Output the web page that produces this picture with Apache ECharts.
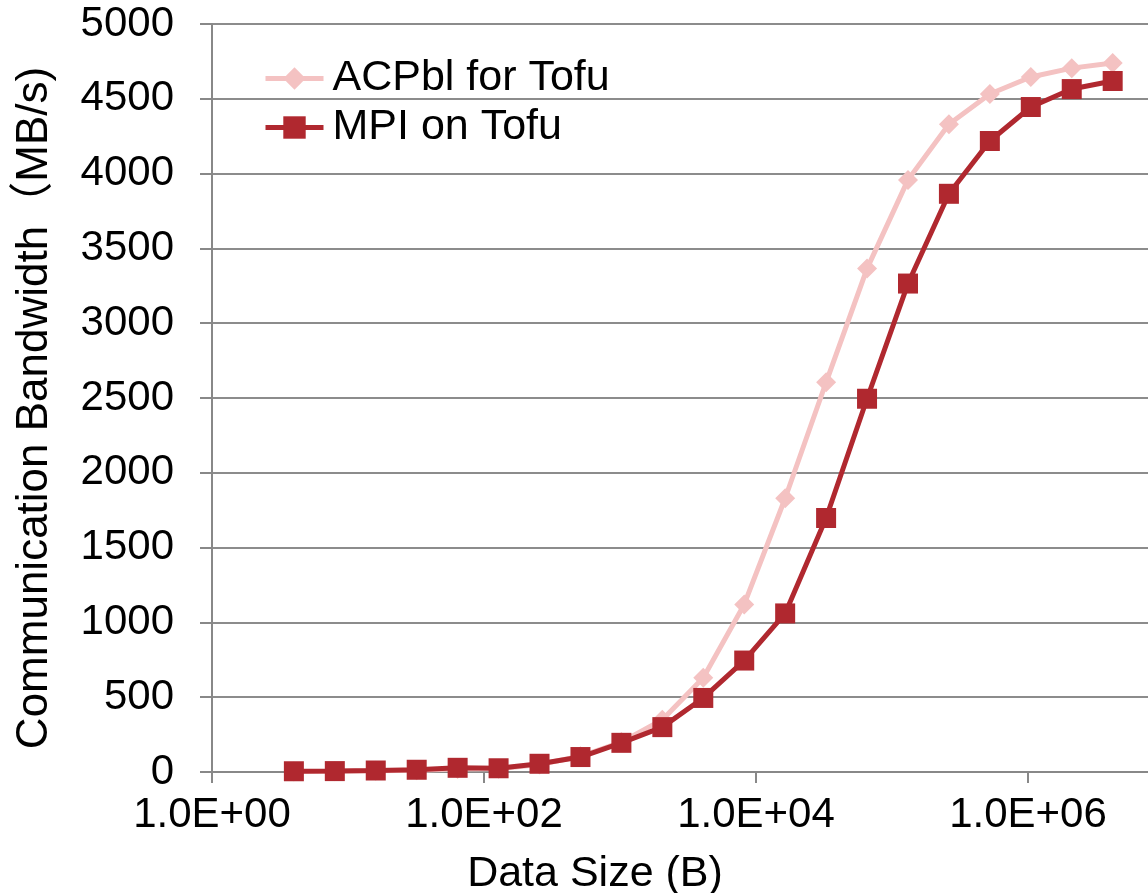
<!DOCTYPE html>
<html>
<head>
<meta charset="utf-8">
<script src="https://cdn.jsdelivr.net/npm/echarts@6/dist/echarts.min.js"></script>
<style>
html,body{margin:0;padding:0;background:#fff;}
#chart{width:1148px;height:893px;}
</style>
</head>
<body>
<div id="chart"></div>
<script>
// Data sizes in bytes (4 B .. 4 MB)
const dataSizes = [4, 8, 16, 32, 64, 128, 256, 512, 1024, 2048, 4096, 8192, 16384, 32768, 65536, 131072, 262144, 524288, 1048576, 2097152, 4194304];
const acpblValues = [3, 5, 8, 12, 20, 22, 50, 105, 200, 350, 630, 1120, 1830, 2605, 3365, 3958, 4330, 4532, 4646, 4705, 4740];
const mpiValues = [5, 6, 10, 15, 28, 25, 55, 100, 195, 300, 495, 745, 1060, 1698, 2495, 3265, 3865, 4218, 4445, 4565, 4619];
const seriesNames = ['ACPbl for Tofu', 'MPI on Tofu'];
const xTickValues = [1, 100, 10000, 1000000, 100000000];
const yTitle = 'Communication Bandwidth（MB/s)';
const xTitle = 'Data Size (B)';

const FONT = '"Liberation Sans", Arial, "Noto Sans CJK SC", sans-serif';
const pairs = (xs, ys) => xs.map((x, i) => [x, ys[i]]);
const PINK = '#F4C2C2';
const RED = '#B0282F';

const chart = echarts.init(document.getElementById('chart'), null, {renderer: 'canvas'});
chart.setOption({
  backgroundColor: '#ffffff',
  animation: false,
  grid: {left: 212, top: 24, width: 1088, height: 748, containLabel: false, outerBoundsMode: 'none'},
  legend: {
    orient: 'vertical',
    left: 258,
    top: 52,
    itemWidth: 58,
    itemHeight: 28,
    itemGap: 6,
    textStyle: {fontFamily: FONT, fontSize: 43, color: '#000', padding: [0, 0, 0, 4]},
    data: [
      {name: seriesNames[0], lineStyle: {width: 5, color: PINK}},
      {name: seriesNames[1], lineStyle: {width: 5, color: RED}}
    ]
  },
  xAxis: {
    type: 'log',
    logBase: 10,
    min: 1,
    max: 100000000,
    axisLine: {show: true, lineStyle: {color: '#888888', width: 2}},
    axisTick: {show: true, length: 11, lineStyle: {color: '#888888', width: 2}, customValues: xTickValues},
    axisLabel: {
      fontFamily: FONT, fontSize: 42, color: '#000', margin: 22,
      customValues: xTickValues,
      formatter: function (v) {
        const e = Math.round(Math.log10(v));
        return '1.0E+' + (e < 10 ? '0' + e : '' + e);
      }
    },
    splitLine: {show: false},
    minorTick: {show: false}
  },
  yAxis: {
    type: 'value',
    min: 0,
    max: 5000,
    interval: 500,
    axisLine: {show: true, lineStyle: {color: '#888888', width: 2}},
    axisTick: {show: true, length: 12, lineStyle: {color: '#888888', width: 2}},
    axisLabel: {fontFamily: FONT, fontSize: 42, color: '#000', margin: 38, formatter: function (v) { return String(v); }},
    splitLine: {show: true, lineStyle: {color: '#8c8c8c', width: 2}}
  },
  graphic: [
    {type: 'text', x: 35, y: 408, rotation: Math.PI / 2,
     style: {text: yTitle, font: '44px ' + FONT, fill: '#000', align: 'center', verticalAlign: 'middle', textAlign: 'center', textVerticalAlign: 'middle'}},
    {type: 'text', x: 595, y: 874,
     style: {text: xTitle, font: '43px ' + FONT, fill: '#000', align: 'center', verticalAlign: 'middle', textAlign: 'center', textVerticalAlign: 'middle'}}
  ],
  series: [
    {
      name: seriesNames[0], type: 'line', data: pairs(dataSizes, acpblValues),
      symbol: 'diamond', symbolSize: 20, showSymbol: true,
      lineStyle: {color: PINK, width: 5},
      itemStyle: {color: PINK},
      z: 2
    },
    {
      name: seriesNames[1], type: 'line', data: pairs(dataSizes, mpiValues),
      symbol: 'rect', symbolSize: 20, showSymbol: true,
      lineStyle: {color: RED, width: 5},
      itemStyle: {color: RED},
      z: 3
    }
  ]
});
</script>
</body>
</html>
